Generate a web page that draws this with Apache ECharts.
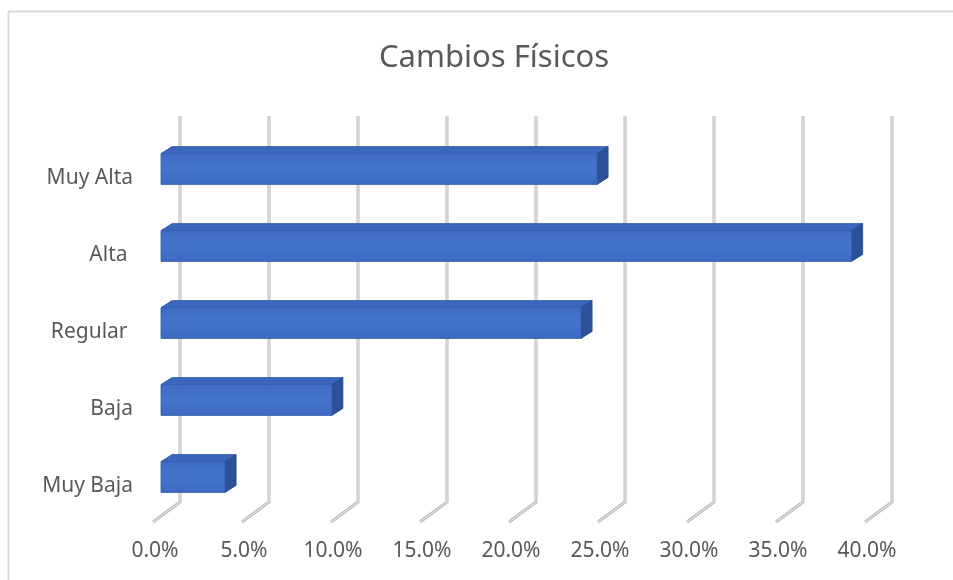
<!DOCTYPE html>
<html>
<head>
<meta charset="utf-8">
<script src="https://cdn.jsdelivr.net/npm/echarts@6/dist/echarts.min.js"></script>
<style>
  html, body { margin: 0; padding: 0; background: #fff; }
  #chart { width: 953px; height: 580px; }
</style>
</head>
<body>
<div id="chart"></div>
<script>
// datos del gráfico
const categorias = ["Muy Alta", "Alta ", "Regular ", "Baja", "Muy Baja"]
const valores = [24.5, 38.8, 23.6, 9.6, 3.6]
const ticks = [0, 5, 10, 15, 20, 25, 30, 35, 40]

const chart = echarts.init(document.getElementById("chart"))

// desplazamiento de la perspectiva 3D
const FONDO_DX = 27, FONDO_DY = 20
const BAR_DX = 11, BAR_DY = 7

// líneas de división: vertical al fondo + diagonal hacia el frente
const renderGrid = (params, api) => {
  const v = api.value(0)
  const top = api.coord([v, 1])
  const bot = api.coord([v, 0])
  const pts = [top, bot, [bot[0] - FONDO_DX, bot[1] + FONDO_DY]]
  return {
    type: "group",
    children: [
      { type: "polyline", shape: { points: pts }, style: { stroke: "#b8b8b8", lineWidth: 3, fill: null } },
      { type: "polyline", shape: { points: pts }, style: { stroke: "#efefef", lineWidth: 1, fill: null } }
    ]
  }
}

// barra 3D
const renderBar = (params, api) => {
  const i = api.value(0)
  const v = api.value(1)
  const a = api.coord([0, i])
  const b = api.coord([v, i])
  const h = api.size([0, 1])[1] * 0.4
  const x0 = a[0], x1 = b[0]
  const yT = a[1] - h / 2, yB = a[1] + h / 2
  return {
    type: "group",
    children: [
      {
        type: "polygon",
        shape: { points: [[x0, yT], [x1, yT], [x1 + BAR_DX, yT - BAR_DY], [x0 + BAR_DX, yT - BAR_DY]] },
        style: { fill: "#3a66bd", stroke: "#2f579f", lineWidth: 0.8 }
      },
      {
        type: "polygon",
        shape: { points: [[x1, yT], [x1 + BAR_DX, yT - BAR_DY], [x1 + BAR_DX, yB - BAR_DY], [x1, yB]] },
        style: { fill: "#2b5199", stroke: "#254785", lineWidth: 0.8 }
      },
      {
        type: "rect",
        shape: { x: x0, y: yT, width: x1 - x0, height: h },
        style: {
          fill: new echarts.graphic.LinearGradient(0, 0, 0, 1, [
            { offset: 0, color: "#3f6bc4" },
            { offset: 0.5, color: "#4674cc" },
            { offset: 1, color: "#3d69c1" }
          ]),
          stroke: "#2f5aa8",
          lineWidth: 0.8
        }
      }
    ]
  }
}

chart.setOption({
  animation: false,
  backgroundColor: "#fff",
  title: {
    text: "Cambios Físicos",
    left: 374,
    top: 38,
    textStyle: { fontFamily: "Noto Sans", fontSize: 31, fontWeight: "normal", color: "#595959" }
  },
  graphic: [
    { type: "line", shape: { x1: 8, y1: 11.5, x2: 953, y2: 11.5 }, style: { stroke: "#d9d9d9", lineWidth: 2 } },
    { type: "line", shape: { x1: 8.5, y1: 11, x2: 8.5, y2: 580 }, style: { stroke: "#d9d9d9", lineWidth: 2 } }
  ],
  grid: [
    // plano del fondo
    { left: 180, top: 116, width: 712, height: 386 },
    // plano frontal (etiquetas)
    { left: 155, top: 140, width: 712, height: 385 },
    // plano de las barras
    { left: 161, top: 130.5, width: 712, height: 385 }
  ],
  xAxis: [
    { gridIndex: 0, type: "value", min: 0, max: 40, interval: 5, show: false },
    {
      gridIndex: 1, type: "value", min: 0, max: 40, interval: 5,
      axisLine: { show: false }, axisTick: { show: false }, splitLine: { show: false },
      axisLabel: {
        margin: 16,
        fontFamily: "Noto Sans", fontSize: 21, color: "#595959",
        formatter: v => v.toFixed(1) + "%"
      }
    },
    { gridIndex: 2, type: "value", min: 0, max: 40, show: false }
  ],
  yAxis: [
    { gridIndex: 0, type: "value", min: 0, max: 1, show: false },
    {
      gridIndex: 1, type: "category", data: categorias, inverse: true,
      axisLine: { show: false }, axisTick: { show: false },
      axisLabel: { margin: 22, fontFamily: "Noto Sans", fontSize: 21, color: "#595959" }
    },
    { gridIndex: 2, type: "category", data: categorias, inverse: true, show: false }
  ],
  series: [
    {
      type: "custom",
      xAxisIndex: 0, yAxisIndex: 0,
      data: ticks.map(t => [t]),
      renderItem: renderGrid,
      silent: true,
      z: 1
    },
    {
      type: "custom",
      xAxisIndex: 2, yAxisIndex: 2,
      data: valores.map((v, i) => [i, v]),
      encode: { x: 1, y: 0 },
      renderItem: renderBar,
      z: 5
    }
  ]
})
</script>
</body>
</html>
